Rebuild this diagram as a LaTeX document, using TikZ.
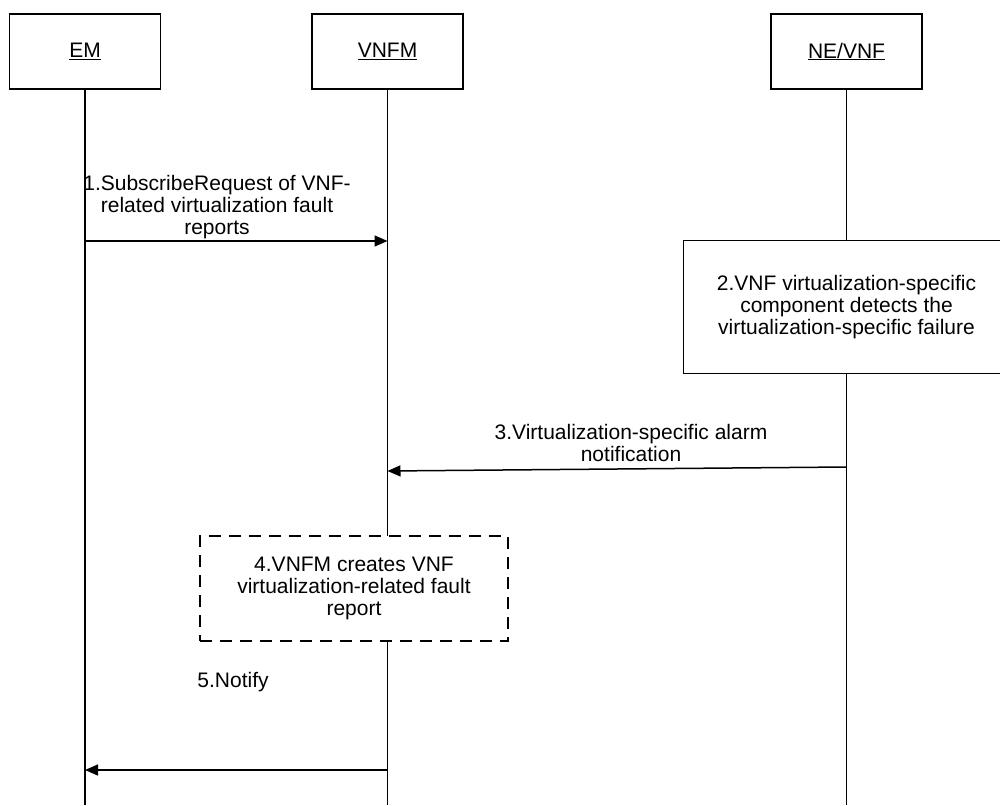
\documentclass[tikz,border=0pt]{standalone}
\usepackage{fontspec}
\setmainfont{Liberation Sans}
\usetikzlibrary{arrows.meta}
\begin{document}
\begin{tikzpicture}[x=1pt,y=-1pt,
  actor/.style={draw,line width=1.5pt,minimum width=151pt,minimum height=75pt,inner sep=0pt,font=\fontsize{21}{22}\selectfont},
  procbox/.style={draw,line width=1.5pt,inner sep=0pt,align=center,font=\fontsize{21}{22}\selectfont},
  txt/.style={align=center,font=\fontsize{21}{22}\selectfont,inner sep=0pt},
  life/.style={line width=1.5pt},
  msg/.style={line width=1.5pt,-{Triangle[length=13pt,width=11pt]}}]
\useasboundingbox (0,0) rectangle (1000,805);
% actors
\node[actor] (em) at (85,51.5) {\underline{EM}};
\node[actor] (vnfm) at (387.5,51.5) {\underline{VNFM}};
\node[actor] (ne) at (846.5,51.5) {\underline{NE/VNF}};
% process boxes
\node[procbox,minimum width=326pt,minimum height=133pt] (b2) at (846.5,307) {2.VNF virtualization-specific\\component detects the\\virtualization-specific failure};
\node[procbox,dash pattern=on 12pt off 8pt,minimum width=308pt,minimum height=105pt] (b4) at (354,588.5) {4.VNFM creates VNF\\virtualization-related fault\\report};
% lifeline ends
\coordinate (emEnd) at (85,805);
\coordinate (vnfmEnd) at (387.5,805);
\coordinate (neEnd) at (846.5,805);
\coordinate (vnfmB4) at (387.5,536);
\coordinate (vnfmA4) at (387.5,641);
% lifelines
\draw[life] (em.south) -- (emEnd);
\draw[life] (vnfm.south) -- (vnfmB4);
\draw[life] (vnfmA4) -- (vnfmEnd);
\draw[life] (ne.south) -- (b2.north);
\draw[life] (b2.south) -- (neEnd);
% messages
\coordinate (m1s) at (85,241);
\coordinate (m1e) at (387.5,241);
\draw[msg] (m1s) -- (m1e);
\node[txt] (t1) at (217,207) {1.SubscribeRequest of VNF-\\related virtualization fault\\reports};
\coordinate (m3s) at (846.5,467);
\coordinate (m3e) at (387.5,471);
\draw[msg] (m3s) -- (m3e);
\node[txt] (t3) at (631,443) {3.Virtualization-specific alarm\\notification};
\coordinate (m5s) at (387.5,770);
\coordinate (m5e) at (85,770);
\draw[msg] (m5s) -- (m5e);
\node[txt] (t5) at (233,682) {5.Notify};
\end{tikzpicture}
\end{document}
